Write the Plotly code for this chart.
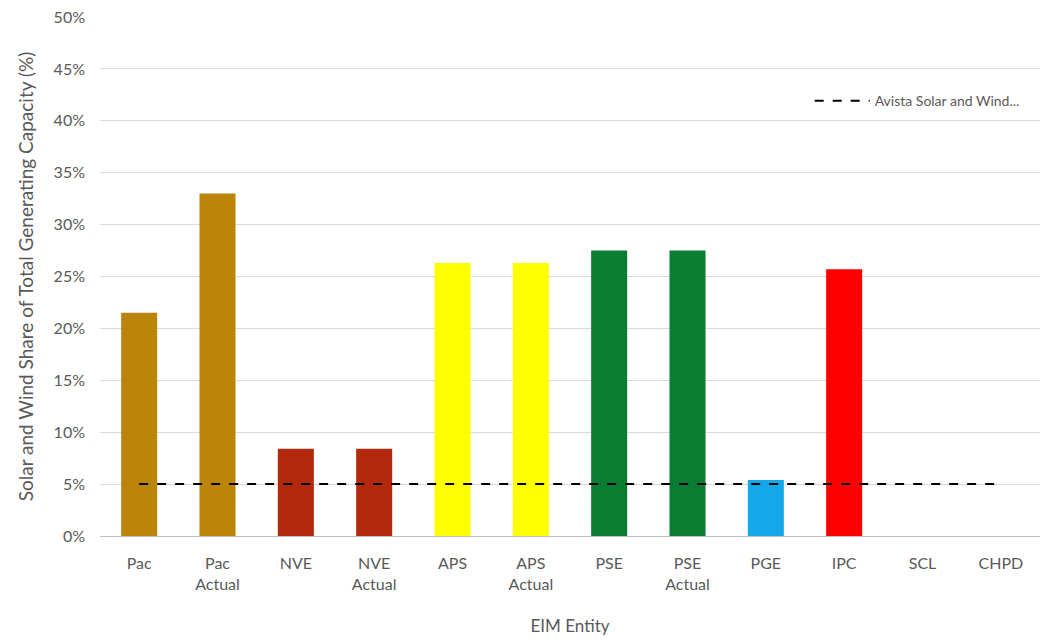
import plotly.graph_objects as go

categories = ["Pac", "Pac<br>Actual", "NVE", "NVE<br>Actual", "APS", "APS<br>Actual",
              "PSE", "PSE<br>Actual", "PGE", "IPC", "SCL", "CHPD"]
share_pct = [21.5, 33.0, 8.4, 8.4, 26.3, 26.3, 27.5, 27.5, 5.4, 25.7, 0, 0]
bar_colors = ["#BA8508", "#BA8508", "#B2290C", "#B2290C", "#FFFF00", "#FFFF00",
              "#0A7D32", "#0A7D32", "#14A8EA", "#FF0000", "#FFFFFF", "#FFFFFF"]
avista_pct = [5.0] * len(categories)
y_ticks = list(range(0, 51, 5))
y_tick_text = [f"{v}%" for v in y_ticks]

fig = go.Figure()
fig.add_trace(go.Bar(
    x=categories, y=share_pct, marker_color=bar_colors,
    marker_line_width=0, showlegend=False, name="Share"))
fig.add_trace(go.Scatter(
    x=categories, y=avista_pct, mode="lines",
    line=dict(color="black", width=2, dash="dash"),
    name="Avista Solar and Wind..."))

font_family = "Lato, Open Sans, DejaVu Sans, sans-serif"
fig.update_layout(
    width=1047, height=640,
    margin=dict(l=100, r=7, t=15, b=103),
    paper_bgcolor="white", plot_bgcolor="white",
    bargap=0.54,
    font=dict(family=font_family, color="#595959", size=14),
    legend=dict(x=0.755, y=0.838, xanchor="left", yanchor="middle",
                itemwidth=55,
                font=dict(size=14, color="#595959"), bgcolor="rgba(0,0,0,0)"),
    xaxis=dict(title=dict(text="EIM Entity", font=dict(size=17, color="#595959"), standoff=28),
               tickfont=dict(size=16, color="#595959"), showgrid=False,
               ticklabelstandoff=13,
               showline=True, linecolor="#BFBFBF", linewidth=1, ticks=""),
    yaxis=dict(title=dict(text="Solar and Wind Share of Total Generating Capacity (%)",
                          font=dict(size=19, color="#595959"), standoff=14),
               range=[0, 50], tickvals=y_ticks, ticktext=y_tick_text,
               tickfont=dict(size=16, color="#595959"), ticklabelstandoff=14,
               showgrid=True, gridcolor="#D9D9D9", gridwidth=1, zeroline=False,
               ticks="", ticklen=0),
)

fig.write_html("out.html")
